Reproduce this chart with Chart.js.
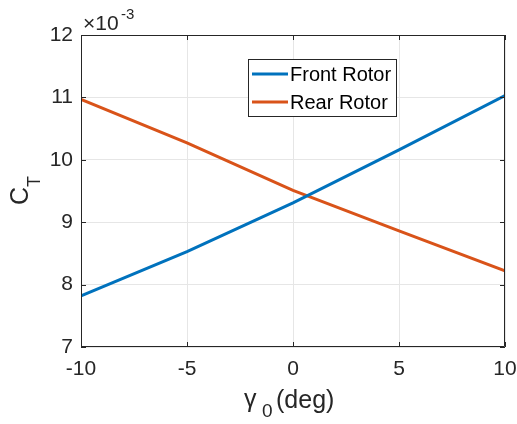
<!DOCTYPE html>
<html lang="en">
<head>
    <meta charset="UTF-8">
    <title>Thrust coefficient vs gamma0</title>
    <script src="https://cdn.jsdelivr.net/npm/chart.js"></script>
    <style>
        body { margin: 0; background: #fff; }
        #wrap { width: 517px; height: 424px; }
    </style>
</head>
<body>
    <div id="wrap"><canvas id="ctChart" width="517" height="424"></canvas></div>

    <script>
        // gamma0 (deg) and C_T values in units of 1e-3
        const gamma0 = [-10, -5, 0, 5, 10];
        const frontRotor = [7.82, 8.53, 9.31, 10.16, 11.03];
        const rearRotor = [10.97, 10.27, 9.51, 8.86, 8.22];
        const seriesNames = ['Front Rotor', 'Rear Rotor'];
        const xTicks = [-10, -5, 0, 5, 10];
        const yTicks = [7, 8, 9, 10, 11, 12];

        const FONT = '"Liberation Sans", Arial, Helvetica, sans-serif';
        const AXIS_COLOR = '#262626';
        const colors = ['#0072BD', '#D95319'];

        const toPoints = (ys) => gamma0.map((x, i) => ({ x: x, y: ys[i] }));

        // inward ticks, box, legend and labels drawn like MATLAB
        const matlabDecor = {
            id: 'matlabDecor',
            afterDraw(chart) {
                const ctx = chart.ctx;
                const a = chart.chartArea;
                const xs = chart.scales.x, ys = chart.scales.y;
                ctx.save();
                ctx.strokeStyle = AXIS_COLOR;
                ctx.lineWidth = 1;
                ctx.beginPath();
                ctx.rect(a.left + 0.5, a.top + 0.5, a.right - a.left - 1, a.bottom - a.top - 1);
                xTicks.forEach(t => {
                    const px = Math.round(xs.getPixelForValue(t)) + 0.5;
                    ctx.moveTo(px, a.bottom); ctx.lineTo(px, a.bottom - 5);
                    ctx.moveTo(px, a.top); ctx.lineTo(px, a.top + 5);
                });
                yTicks.forEach(t => {
                    const py = Math.round(ys.getPixelForValue(t)) + 0.5;
                    ctx.moveTo(a.left, py); ctx.lineTo(a.left + 5, py);
                    ctx.moveTo(a.right, py); ctx.lineTo(a.right - 5, py);
                });
                ctx.stroke();

                // exponent label
                ctx.fillStyle = AXIS_COLOR;
                ctx.textBaseline = 'alphabetic';
                ctx.textAlign = 'left';
                ctx.font = '21px ' + FONT;
                ctx.fillText('\u00d710', 83, 30);
                ctx.font = '15px ' + FONT;
                ctx.fillText('-3', 121, 19);

                // y title C_T
                ctx.save();
                ctx.translate(28, 205);
                ctx.rotate(-Math.PI / 2);
                ctx.font = '25px ' + FONT;
                ctx.textAlign = 'left';
                ctx.fillText('C', 0, 0);
                ctx.font = '18px ' + FONT;
                ctx.fillText('T', 18, 12);
                ctx.restore();

                // x title gamma_0 (deg)
                ctx.font = '25px ' + FONT;
                ctx.textAlign = 'left';
                ctx.fillText('\u03b3', 244, 407);
                ctx.font = '19px ' + FONT;
                ctx.fillText('0', 262, 417);
                ctx.font = '25px ' + FONT;
                ctx.fillText('(deg)', 276, 408);

                // legend box
                const lx = 248, ly = 59, lw = 148, lh = 57;
                ctx.fillStyle = '#fff';
                ctx.fillRect(lx, ly, lw, lh);
                ctx.strokeStyle = '#262626';
                ctx.lineWidth = 1;
                ctx.strokeRect(lx + 0.5, ly + 0.5, lw, lh);
                const rowY = [74, 102];
                seriesNames.forEach((name, i) => {
                    ctx.strokeStyle = colors[i];
                    ctx.lineWidth = 3;
                    ctx.beginPath();
                    ctx.moveTo(252, rowY[i]);
                    ctx.lineTo(288, rowY[i]);
                    ctx.stroke();
                    ctx.fillStyle = '#000';
                    ctx.font = '20px ' + FONT;
                    ctx.textBaseline = 'middle';
                    ctx.fillText(name, 290, rowY[i] + 1);
                });
                ctx.restore();
            }
        };

        new Chart(document.getElementById('ctChart'), {
            type: 'line',
            data: {
                datasets: [
                    { label: seriesNames[0], data: toPoints(frontRotor), borderColor: colors[0], borderWidth: 3, pointRadius: 0, fill: false, tension: 0 },
                    { label: seriesNames[1], data: toPoints(rearRotor), borderColor: colors[1], borderWidth: 3, pointRadius: 0, fill: false, tension: 0 }
                ]
            },
            options: {
                responsive: false,
                animation: false,
                layout: { padding: { top: 35, right: 12, left: 0, bottom: 0 } },
                plugins: { legend: { display: false }, tooltip: { enabled: false } },
                scales: {
                    x: {
                        type: 'linear', min: -10, max: 10,
                        afterBuildTicks: (s) => { s.ticks = xTicks.map(v => ({ value: v })); },
                        afterFit: (s) => { s.height = 77; s.paddingLeft = 0; s.paddingRight = 0; },
                        grid: { color: '#e6e6e6', drawTicks: false },
                        border: { display: false },
                        ticks: { color: AXIS_COLOR, font: { family: FONT, size: 21 }, padding: 10, maxRotation: 0 }
                    },
                    y: {
                        type: 'linear', min: 7, max: 12,
                        afterBuildTicks: (s) => { s.ticks = yTicks.map(v => ({ value: v })); },
                        afterFit: (s) => { s.width = 81; s.paddingTop = 0; s.paddingBottom = 0; },
                        grid: { color: '#e6e6e6', drawTicks: false },
                        border: { display: false },
                        ticks: { color: AXIS_COLOR, font: { family: FONT, size: 21 }, padding: 8 }
                    }
                }
            },
            plugins: [matlabDecor]
        });
    </script>
</body>
</html>
